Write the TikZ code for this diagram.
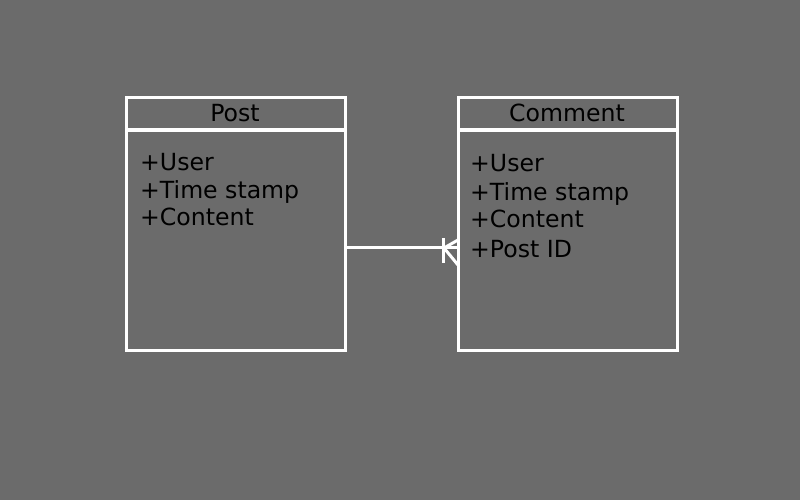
\documentclass[tikz,border=0pt]{standalone}
\usepackage{fontspec}
\setmainfont{DejaVu Sans}
\definecolor{bg}{RGB}{107,107,107}
\begin{document}
\begin{tikzpicture}[x=1pt,y=-1pt,
  box/.style={draw=white, line width=3pt, inner sep=0pt, outer sep=0pt, anchor=north west},
  txt/.style={font=\fontsize{23.6}{28}\selectfont, text=black, inner sep=0pt, anchor=base west},
  ttl/.style={font=\fontsize{23.6}{28}\selectfont, text=black, inner sep=0pt, anchor=base},
  conn/.style={draw=white, line width=3pt}]
\fill[bg] (0,0) rectangle (800,500);
\useasboundingbox (0,0) rectangle (800,500);
% Post
\node[box, minimum width=219pt, minimum height=32pt] (postHead) at (126,98) {};
\node[box, minimum width=219pt, minimum height=219pt] (postBody) at (126,131) {};
\node[ttl] (postTitle) at (235,122) {Post};
\node[txt] (p1) at (140,170) {+User};
\node[txt] (p2) at (140,198) {+Time stamp};
\node[txt] (p3) at (140,225) {+Content};
% Comment
\node[box, minimum width=219pt, minimum height=32pt] (comHead) at (458,98) {};
\node[box, minimum width=219pt, minimum height=219pt] (comBody) at (458,131) {};
\node[ttl] (comTitle) at (567,122) {Comment};
\node[txt] (c1) at (470,171) {+User};
\node[txt] (c2) at (470,200) {+Time stamp};
\node[txt] (c3) at (470,227) {+Content};
\node[txt] (c4) at (470,257) {+Post ID};
% connector
\coordinate (ps) at (postBody.east |- 0,247);
\coordinate (ce) at (comBody.west |- 0,247);
\coordinate (bar1) at (443,238);
\coordinate (bar2) at (443,263);
\coordinate (fork) at (444,248);
\coordinate (f1) at (ce |- 0,240);
\coordinate (f2) at (ce |- 0,265);
\draw[conn] (ps) -- (ce);
\draw[conn] (bar1) -- (bar2);
\draw[conn] (f1) -- (fork) -- (f2);
\end{tikzpicture}
\end{document}
